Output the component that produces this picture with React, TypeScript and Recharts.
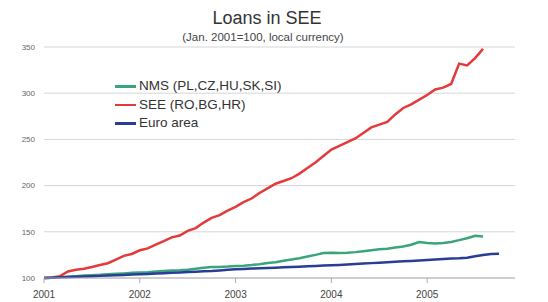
import { CartesianGrid, Line, LineChart, XAxis, YAxis } from "recharts";

const years = [2001, 2002, 2003, 2004, 2005];
const monthNames = ["01", "02", "03", "04", "05", "06", "07", "08", "09", "10", "11", "12"];
const months = years.flatMap((y) => monthNames.map((m) => `${y}-${m}`));
const yearTicks = years.map((y) => `${y}-01`);
const valueTicks = [100, 150, 200, 250, 300, 350];

// SEE (RO,BG,HR), Jan 2001 .. Aug 2005
const seeValues = [
  100, 100.5, 102, 107, 109, 110, 112, 114, 116, 120, 124, 126,
  130, 132, 136, 140, 144, 146, 151, 154, 160, 165, 168, 173,
  177, 182, 186, 192, 197, 202, 205, 208, 213, 219, 225, 232,
  239, 243, 247, 251, 257, 263, 266, 269, 277, 284, 288, 293,
  298, 304, 306, 310, 332, 330, 338, 348,
];

// NMS (PL,CZ,HU,SK,SI), Jan 2001 .. Aug 2005
const nmsValues = [
  100, 100.4, 101, 101.3, 102, 102.6, 103, 103.4, 104.1, 104.5, 105, 105.6,
  106, 106.3, 107, 107.6, 108, 108.4, 109, 110, 111, 112, 112, 112.4,
  113, 113.2, 114, 115, 116.2, 117, 118.6, 120, 121.4, 123.2, 125, 127,
  127.4, 127, 127.2, 128, 129, 130, 131, 131.6, 133, 134, 136, 139,
  138, 137.4, 138, 139, 141, 143, 145.6, 145,
];

// Euro area, Jan 2001 .. Oct 2005
const euroValues = [
  100, 100.3, 100.7, 101, 101.3, 101.7, 102, 102.3, 102.7, 103, 103.3, 103.7,
  104, 104.4, 104.8, 105.2, 105.6, 106, 106.4, 106.8, 107.2, 107.6, 108.2, 108.9,
  109.5, 109.8, 110.2, 110.5, 110.9, 111.2, 111.6, 112, 112.3, 112.7, 113, 113.4,
  113.8, 114.2, 114.6, 115.1, 115.6, 116.1, 116.6, 117, 117.5, 118, 118.5, 119,
  119.5, 120, 120.6, 121, 121.4, 122, 123.5, 125, 126, 126.2,
];

const series = [
  { key: "nms", name: "NMS (PL,CZ,HU,SK,SI)", color: "#3aa57a" },
  { key: "see", name: "SEE (RO,BG,HR)", color: "#e43a3c" },
  { key: "euro", name: "Euro area", color: "#283c98" },
];

const data = months.map((month, i) => ({
  month,
  nms: nmsValues[i],
  see: seeValues[i],
  euro: euroValues[i],
}));

const font = "'Liberation Sans', Arial, sans-serif";

export default function App() {
  return (
    <div
      style={{
        position: "absolute",
        left: 0,
        top: 0,
        width: 548,
        height: 302,
        background: "#fff",
        fontFamily: font,
      }}
    >
      <div
        style={{
          position: "absolute",
          left: 0,
          width: 534,
          top: 8,
          textAlign: "center",
          fontSize: 18,
          color: "#333",
        }}
      >
        Loans in SEE
      </div>
      <div
        style={{
          position: "absolute",
          left: 0,
          width: 526,
          top: 31,
          textAlign: "center",
          fontSize: 11.5,
          color: "#444",
        }}
      >
        (Jan. 2001=100, local currency)
      </div>
      <LineChart
        width={548}
        height={302}
        data={data}
        margin={{ top: 47, right: 33, bottom: 0, left: 0 }}
      >
        <CartesianGrid vertical={false} stroke="#d6d6d6" />
        <XAxis
          dataKey="month"
          ticks={yearTicks}
          tickFormatter={(v: string) => v.slice(0, 4)}
          interval={0}
          height={24}
          tickSize={5}
          tickMargin={8}
          stroke="#b0b0b0"
          tick={{ fill: "#444", fontSize: 10, fontFamily: font }}
        />
        <YAxis
          domain={[100, 350]}
          ticks={valueTicks}
          width={44}
          axisLine={false}
          tickLine={false}
          tickMargin={3}
          tick={{ fill: "#666", fontSize: 8, fontFamily: font }}
        />
        {series.map((s) => (
          <Line
            key={s.key}
            dataKey={s.key}
            name={s.name}
            stroke={s.color}
            strokeWidth={2.5}
            dot={false}
            type="linear"
            isAnimationActive={false}
          />
        ))}
      </LineChart>
      <div
        style={{
          position: "absolute",
          left: 115,
          top: 77,
          fontSize: 13.5,
          color: "#333",
          lineHeight: "18.5px",
        }}
      >
        {series.map((s) => (
          <div key={s.key} style={{ display: "flex", alignItems: "center" }}>
            <span style={{ width: 21, height: 2.5, background: s.color, marginRight: 3 }} />
            <span>{s.name}</span>
          </div>
        ))}
      </div>
    </div>
  );
}
